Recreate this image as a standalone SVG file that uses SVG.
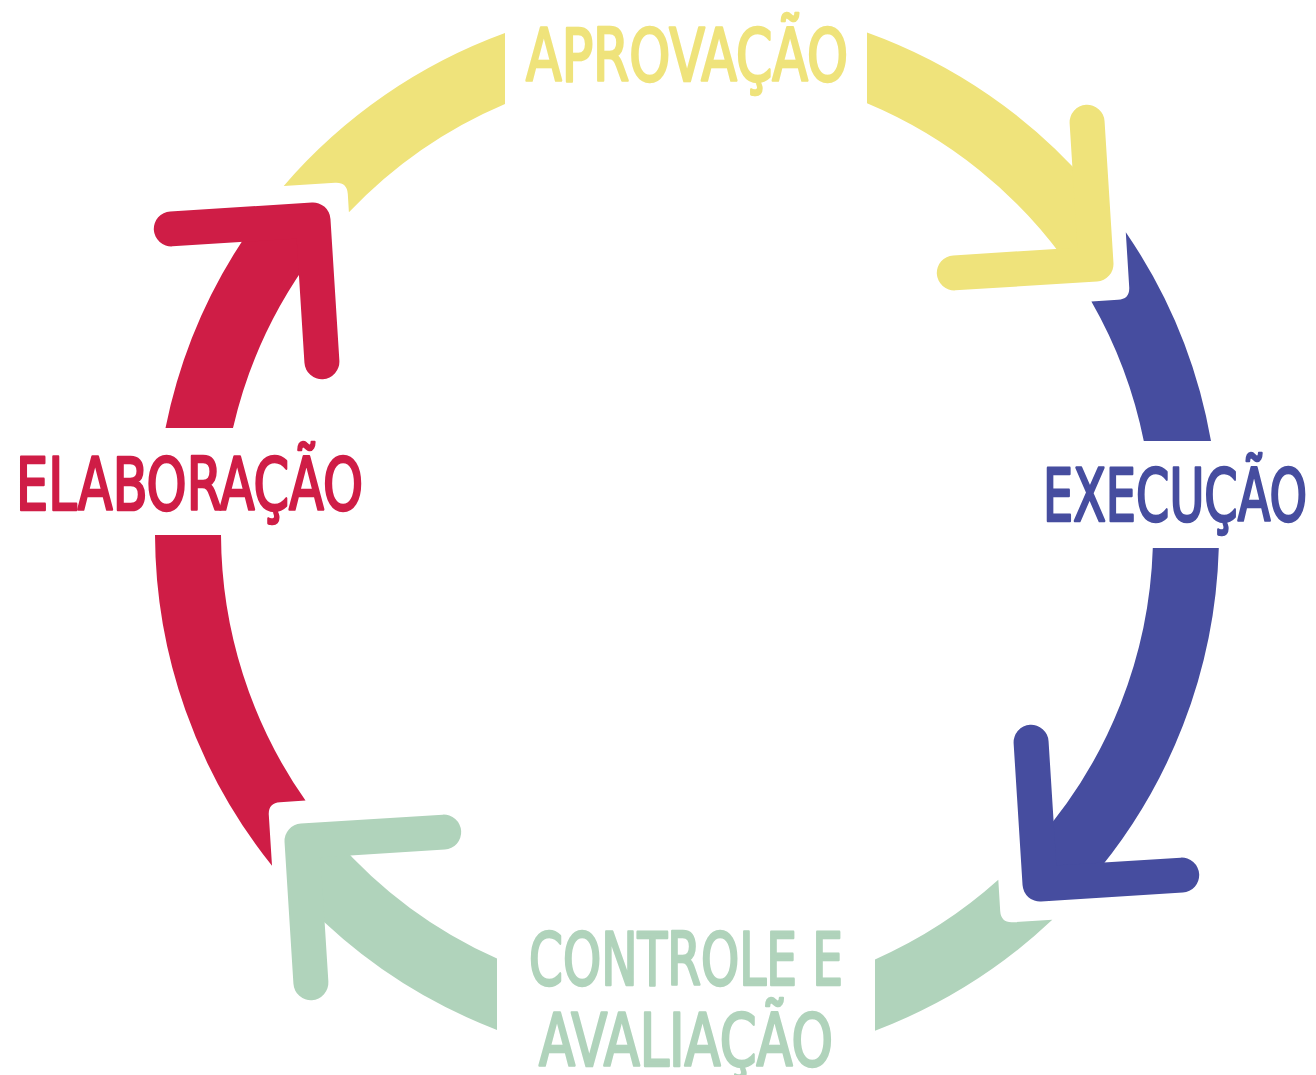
<svg xmlns="http://www.w3.org/2000/svg" width="1316" height="1075" viewBox="0 0 1316 1075">
<style>
.bg{fill:#ffffff}
.red{fill:#CF1D46}
.yel{fill:#EFE37B}
.blu{fill:#464D9F}
.grn{fill:#B0D3BB}
.head{fill:none;stroke-width:35;stroke-linecap:round;stroke-linejoin:round}
.hr{stroke:#CF1D46}
.hy{stroke:#EFE37B}
.hb{stroke:#464D9F}
.hg{stroke:#B0D3BB}
.lbl{font-family:"DejaVu Sans Condensed","DejaVu Sans",sans-serif;font-weight:normal;font-size:73px;stroke-width:2.6;stroke-linejoin:round}
.tr{fill:#CF1D46;stroke:#CF1D46}
.ty{fill:#EFE37B;stroke:#EFE37B}
.tb{fill:#464D9F;stroke:#464D9F}
.tg{fill:#B0D3BB;stroke:#B0D3BB}
</style>
<rect class="bg" x="0" y="0" width="1316" height="1075"/>
<g id="connectors">
  <!-- yellow arc -->
  <path class="yel" d="M 283.7 186 A 532 532 0 0 1 505 33.1 L 505 104 A 466 466 0 0 0 348.9 212.3 L 347.8 194 Q 347 182 335 182.8 Z"/>
  <path class="yel" d="M 867 32.4 A 532 532 0 0 1 1091.2 187.1 L 1096 264 L 1068.8 265.7 A 466 466 0 0 0 867 103.2 Z"/>
  <!-- blue arc -->
  <path class="blu" d="M 1125.8 232.2 A 532 532 0 0 1 1211 441 L 1143.8 441 A 466 466 0 0 0 1091.4 301.4 L 1118 299.8 Q 1130 299 1129.2 287 Z"/>
  <path class="blu" d="M 1218.8 548 A 532 532 0 0 1 1089.5 880.9 L 1040 884 L 1037.3 840.4 A 466 466 0 0 0 1152.8 548 Z"/>
  <!-- green arc -->
  <path class="grn" d="M 1052.3 919.8 A 532 532 0 0 1 875 1030.7 L 875 959.4 A 466 466 0 0 0 998.3 879.8 L 1000.2 911 Q 1001 923 1013 922.2 Z"/>
  <path class="grn" d="M 497 1029.9 A 532 532 0 0 1 306 904.3 L 302 841 L 335.4 838.9 A 466 466 0 0 0 497 958.5 Z"/>
  <!-- red arc -->
  <path class="red" d="M 272 865.8 A 532 532 0 0 1 155 535 L 221 535 A 466 466 0 0 0 305.5 800.6 L 280 802.2 Q 268 803 268.8 815 Z"/>
  <path class="red" d="M 165.5 428 A 532 532 0 0 1 254.1 223.7 L 313 220 L 315 252.3 A 466 466 0 0 0 233 428 Z"/>
  <!-- arrowheads -->
  <polyline class="head hr" points="171.3,228.9 313,220 321.9,361.7"/>
  <polyline class="head hy" points="1087.1,122.3 1096,264 954.3,272.9"/>
  <polyline class="head hb" points="1031.1,742.3 1040,884 1181.7,875.1"/>
  <polyline class="head hg" points="443.7,832.1 302,841 310.9,982.7"/>
</g>
<g id="node-aprovacao">
  <text class="lbl ty" x="526" y="81" textLength="322" lengthAdjust="spacingAndGlyphs">APROVAÇÃO</text>
</g>
<g id="node-execucao">
  <text class="lbl tb" x="1043" y="521" textLength="264" lengthAdjust="spacingAndGlyphs">EXECUÇÃO</text>
</g>
<g id="node-controle">
  <text class="lbl tg" x="529" y="985" textLength="314" lengthAdjust="spacingAndGlyphs">CONTROLE E</text>
  <text class="lbl tg" x="539" y="1066" textLength="294" lengthAdjust="spacingAndGlyphs">AVALIAÇÃO</text>
</g>
<g id="node-elaboracao">
  <text class="lbl tr" x="16" y="510" textLength="347" lengthAdjust="spacingAndGlyphs">ELABORAÇÃO</text>
</g>
</svg>
